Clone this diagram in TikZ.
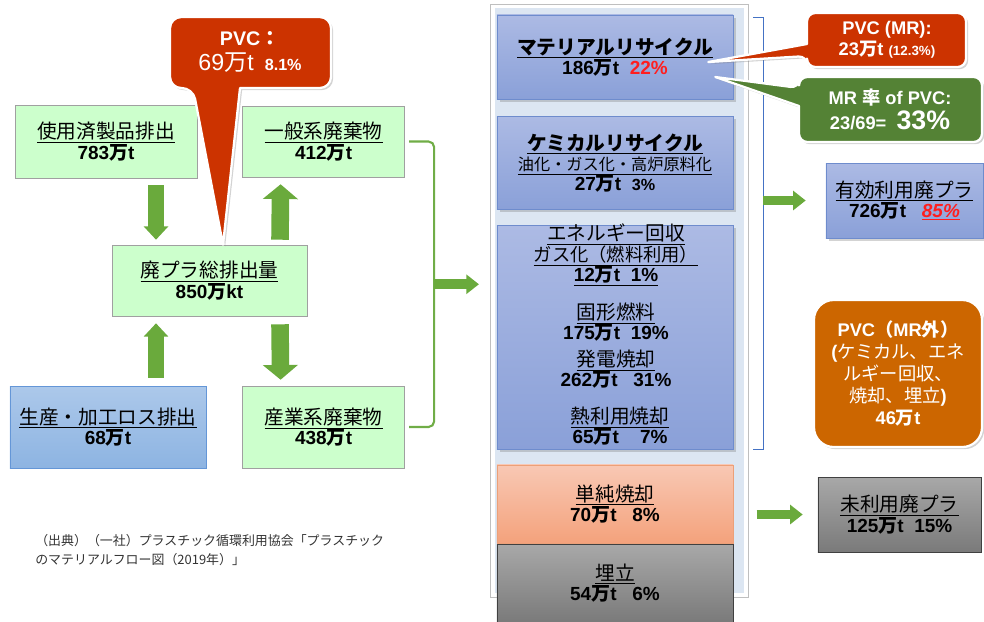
\documentclass[tikz,border=0pt]{standalone}
\usepackage{fontspec}
\setmainfont{Liberation Sans}
\newfontfamily\jp{Noto Sans CJK JP}
\usetikzlibrary{arrows.meta}
\usetikzlibrary{positioning}
\usetikzlibrary{shadows}
\usetikzlibrary{calc}

\definecolor{boxgreen}{RGB}{204,255,204}
\definecolor{boxgreenline}{RGB}{160,160,160}
\definecolor{flowgreen}{RGB}{106,170,60}
\definecolor{bracketgreen}{RGB}{112,173,71}
\definecolor{losstop}{RGB}{172,200,234}
\definecolor{lossbot}{RGB}{141,180,226}
\definecolor{lossline}{RGB}{100,150,215}
\definecolor{rectop}{RGB}{172,186,228}
\definecolor{recbot}{RGB}{138,160,216}
\definecolor{recline}{RGB}{110,140,205}
\definecolor{burntop}{RGB}{248,200,180}
\definecolor{burnbot}{RGB}{244,162,124}
\definecolor{burnline}{RGB}{236,160,120}
\definecolor{greytop}{RGB}{168,168,168}
\definecolor{greybot}{RGB}{122,122,122}
\definecolor{pvcred}{RGB}{204,51,0}
\definecolor{pvcgreen}{RGB}{84,130,53}
\definecolor{pvcorange}{RGB}{204,102,0}
\definecolor{panelblue}{RGB}{220,230,242}
\definecolor{bracketblue}{RGB}{68,114,196}
\definecolor{pctred}{RGB}{255,30,30}

\newcommand{\mant}{{\jp 万}t}
\newcommand{\boxtitle}[1]{\underline{\fontsize{14pt}{14.5pt}\selectfont\jp #1}}

\tikzset{
    plain box/.style={align=center, inner sep=0pt, font=\fontsize{13.5pt}{14.5pt}\selectfont},
    green box/.style={plain box, draw=boxgreenline, fill=boxgreen},
    loss box/.style={plain box, draw=lossline, top color=losstop, bottom color=lossbot},
    rec box/.style={plain box, draw=recline, top color=rectop, bottom color=recbot,
            drop shadow={opacity=0.35, shadow xshift=2pt, shadow yshift=-2pt}},
    burn box/.style={plain box, draw=burnline, top color=burntop, bottom color=burnbot},
    grey box/.style={plain box, draw=black!75, top color=greytop, bottom color=greybot},
    en text/.style={plain box},
    flow thin/.style={draw=flowgreen, line width=11pt, -{Triangle[width=17pt, length=9.5pt]}},
    flow wide/.style={draw=flowgreen, line width=12.5pt, -{Triangle[width=24.5pt, length=10.5pt]}},
    flow side/.style={draw=flowgreen, line width=7pt, -{Triangle[width=13.5pt, length=9pt]}},
    bracket/.style={draw=bracketgreen, line width=1.5pt, rounded corners=4pt},
    callout/.style={fill=#1, draw=white, line width=1.6pt, line join=round,
            drop shadow={opacity=0.35, shadow xshift=1.5pt, shadow yshift=-1.5pt}},
    callout text/.style={text=white, align=center, inner sep=0pt},
    source text/.style={align=left, inner sep=0pt, text=black!80,
            font=\fontsize{9.2pt}{13.5pt}\selectfont\jp}
}

\begin{document}
\begin{tikzpicture}[x=0.025cm, y=-0.025cm]
    \useasboundingbox (0,0) rectangle (984,621);

    % treatment column panel
    \filldraw[fill=white, draw=black!25] (490,4) rectangle (748,597);
    \fill[panelblue] (495,8) rectangle (744,593);

    % where the waste comes from
    \node[green box, minimum width=4.55cm, minimum height=1.825cm] (use) at (106,141.5) {\boxtitle{使用済製品排出}\\ \textbf{783\mant}};
    \node[green box, minimum width=4.05cm, minimum height=1.775cm, right=1.125cm of use] (general) {\boxtitle{一般系廃棄物}\\ \textbf{412\mant}};
    \node[green box, minimum width=4.875cm, minimum height=1.775cm] (total) at (209.5,280.5) {\boxtitle{廃プラ総排出量}\\ \textbf{850{\jp 万}kt}};
    \node[loss box, minimum width=4.9cm, minimum height=2.05cm] (loss) at (108,427) {\boxtitle{生産・加工ロス排出}\\ \textbf{68\mant}};
    \node[green box, minimum width=4.05cm, minimum height=2.05cm, right=0.9cm of loss] (industry) {\boxtitle{産業系廃棄物}\\ \textbf{438\mant}};

    \draw[flow thin] ([shift={(50,7)}]use.south) -- ([shift={(-53.5,-5)}]total.north);
    \draw[flow wide] ([shift={(70.5,-5)}]total.north) -- ([shift={(-43,7)}]general.south);
    \draw[flow thin] ([shift={(48,-8)}]loss.north) -- ([shift={(-53.5,7)}]total.south);
    \draw[flow wide] ([shift={(70.5,8)}]total.south) -- ([shift={(-43,-6)}]industry.north);

    \draw[bracket] ([xshift=3pt]general.east) -- ++(25,0) |- ([xshift=3pt]industry.east);
    \coordinate (merge) at ($(general.east)!0.5!(industry.east)+(29,0)$);
    \draw[flow side] (merge) -- ++(45,0);

    % treatment
    \node[rec box, minimum width=5.9cm, minimum height=2.1cm] (mr) at (615,57) {{\bfseries\boxtitle{マテリアルリサイクル}}\\ \textbf{186\mant\ \ \textcolor{pctred}{22\%}}};
    \node[rec box, minimum width=5.9cm, minimum height=2.325cm, below=0.425cm of mr] (chem) {{\bfseries\boxtitle{ケミカルリサイクル}}\\ \underline{\fontsize{11.5pt}{14pt}\selectfont\jp 油化・ガス化・高炉原料化}\\ \textbf{27\mant\ \ {\fontsize{11.5pt}{14pt}\selectfont 3\%}}};
    \node[rec box, minimum width=5.9cm, minimum height=5.6cm, below=0.375cm of chem] (energy) {};
    \node[en text] (engas) at (616,255) {\boxtitle{エネルギー回収}\\ \underline{\fontsize{13pt}{14.2pt}\selectfont\jp ガス化（燃料利用）}\\ \underline{\bfseries 12{\jp 万}t\ \ 1\%}};
    \node[en text] (ensolid) at (616,322) {\boxtitle{固形燃料}\\ \textbf{175\mant\ \ 19\%}};
    \node[en text] (enpower) at (616,369) {\boxtitle{発電焼却}\\ \textbf{262\mant\ \ \ 31\%}};
    \node[en text] (enheat) at (620,426) {\boxtitle{熱利用焼却}\\ \textbf{65\mant\ \ \ \ 7\%}};
    \node[burn box, minimum width=5.9cm, minimum height=1.95cm, below=0.375cm of energy] (incin) {\boxtitle{単純焼却}\\ \textbf{70\mant\ \ \ 8\%}};
    \node[grey box, minimum width=5.9cm, minimum height=1.95cm, below=0.025cm of incin] (landfill) {\boxtitle{埋立}\\ \textbf{54\mant\ \ \ 6\%}};

    % useful / unused totals
    \coordinate (brk) at ([shift={(30,3)}]mr.north east);
    \draw[bracketblue, line width=0.8pt] ([shift={(20,3)}]mr.north east) -- (brk) |- ([shift={(20,0)}]energy.south east);
    \node[rec box, minimum width=3.925cm, minimum height=1.875cm] (useful) at (904.5,200.5) {\boxtitle{有効利用廃プラ}\\ \textbf{726\mant\ \ \ \textcolor{pctred}{\underline{\itshape 85\%}}}};
    \draw[flow side] (useful.west -| brk) -- ([shift={(-20,0)}]useful.west);
    \node[grey box, minimum width=4.075cm, minimum height=1.875cm] (unused) at (899.5,514.5) {\boxtitle{未利用廃プラ}\\ \textbf{125\mant\ \ 15\%}};
    \draw[flow side] ([shift={(-61,0)}]unused.west) -- ([shift={(-15,0)}]unused.west);

    % PVC callouts
    \draw[callout=pvcred] (280,88) [rounded corners=8pt] -- (331,88) -- (331,17) -- (170,17) -- (170,88) -- (193,88) [sharp corners] -- ([shift={(13.5,0)}]total.north) -- (240,88) -- cycle;
    \node[callout text, font=\fontsize{14pt}{18pt}\selectfont] (pvc) at (250,52) {\textbf{PVC{\jp ：}}\\ {\fontsize{16.5pt}{18pt}\selectfont 69{\jp 万}t}\ \ {\bfseries\fontsize{11.5pt}{14pt}\selectfont 8.1\%}};

    \draw[callout=pvcred] (807,30) [rounded corners=6pt] -- (807,13) -- (966,13) -- (966,67) -- (807,67) -- (807,56) [sharp corners] -- ([shift={(-25,5)}]mr.east) -- (807,44) -- cycle;
    \node[callout text, font=\fontsize{13pt}{15pt}\selectfont] (pvcmr) at (887,40) {\textbf{PVC (MR):}\\ \textbf{23\mant\ {\fontsize{9.5pt}{12pt}\selectfont (12.3\%)}}};

    \draw[callout=pvcgreen] (799,120) [rounded corners=6pt] -- (799,142) -- (982,142) -- (982,77) -- (799,77) -- (799,88) [sharp corners] -- ([shift={(-18,20)}]mr.east) -- (799,106) -- cycle;
    \node[callout text, font=\fontsize{13pt}{17.8pt}\selectfont] (mrrate) at (890,109.5) {\textbf{MR {\jp 率} of PVC:}\\ \textbf{23/69=\ \ {\fontsize{19pt}{20pt}\selectfont 33\%}}};

    \node[callout=pvcorange, callout text, rounded corners=14pt, minimum width=4.2cm, minimum height=3.675cm, font=\fontsize{13pt}{15.6pt}\selectfont] (pvcrest) at (898,373.5) {\textbf{PVC{\jp （}MR{\jp 外）}}\\ \textbf{(}{\jp ケミカル、エネ}\\ {\jp ルギー回収、}\\ {\jp 焼却、埋立}\textbf{)}\\ \textbf{46\mant}};

    % source
    \node[source text, anchor=west] (source) at (35,550.5) {（出典）（一社）プラスチック循環利用協会「プラスチック\\のマテリアルフロー図（2019年）」};
\end{tikzpicture}
\end{document}
